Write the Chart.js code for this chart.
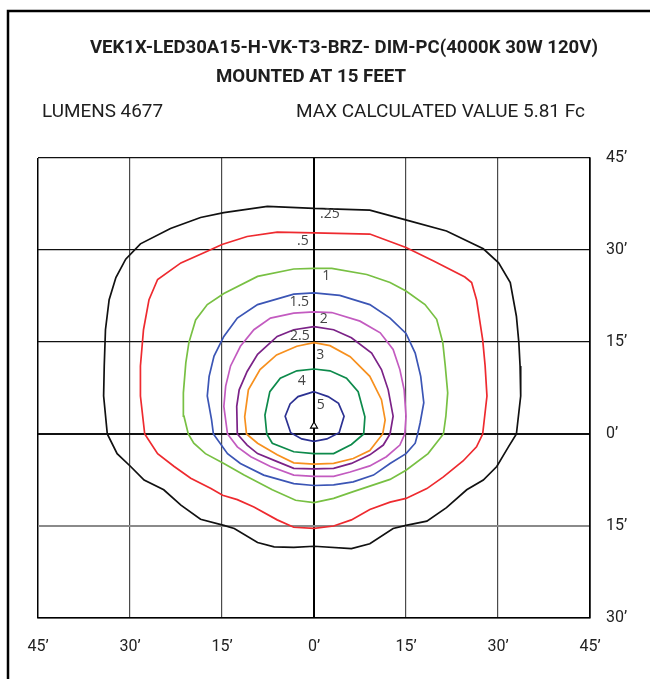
<!DOCTYPE html>
<html>
<head>
<meta charset="utf-8">
<script src="https://cdn.jsdelivr.net/npm/chart.js@4.4.1/dist/chart.umd.min.js"></script>
<style>
html, body { margin: 0; padding: 0; background: #fff; }
canvas { display: block; }
</style>
</head>
<body>
<canvas id="isoChart" width="650" height="679"></canvas>
<script>
// isofootcandle levels and their traced outlines, in feet
const levels = ['.25', '.5', '1', '1.5', '2', '2.5', '3', '4', '5'];

const contour025 = [[0,36.8],[9.1,36.5],[15.7,34.7],[21.6,33.1],[27.6,30.2],[30.1,27.9],[32.0,24.7],[33.0,19.2],[33.4,14.9],[33.6,11.1],[33.7,6.2],[33.0,0],
  [31.7,-2.1],[29.8,-5.3],[27.6,-7.5],[24.9,-9.1],[21.6,-12.0],[18.4,-14.2],[15,-14.9],[12.9,-15.4],[9.1,-17.9],[6.1,-18.7],[0,-18.3],
  [-3.3,-18.5],[-6.5,-18.4],[-9.2,-17.7],[-13.0,-15.4],[-14.7,-14.9],[-18.5,-13.9],[-21.7,-11.6],[-24.5,-9.1],[-27.7,-7.5],[-29.9,-5.3],[-32.1,-3.2],[-33.7,0],
  [-34.3,6.2],[-34.2,11.1],[-34.0,17.0],[-33.4,21.9],[-32.3,25.5],[-30.7,28.5],[-28.3,31.0],[-23.4,33.5],[-18.5,35.3],[-14.7,36.1],[-7.6,37.1],[0,36.8]];

const contour05 = [[0,32.8],[9.1,32.6],[15,30.4],[19.5,28.2],[24.6,25.6],[25.7,24.7],[26.5,21.9],[27.5,15.4],[27.9,11.1],[28.2,6.2],[27.5,0],
  [26.5,-2.1],[24.3,-4.4],[21.1,-7.0],[18.4,-8.9],[15,-10.5],[12.4,-11.1],[9.1,-12.3],[6.1,-14.0],[3.2,-15.0],[0,-15.4],
  [-3.3,-15.2],[-6.0,-14.0],[-9.8,-11.9],[-12.5,-10.7],[-14.9,-10.0],[-16.8,-8.9],[-20.1,-7.2],[-22.8,-5.3],[-25.5,-3.2],[-27.6,0],
  [-28.3,6.2],[-28.3,11.1],[-27.8,17.0],[-26.9,21.9],[-25.5,25.2],[-21.7,27.9],[-17.4,29.8],[-15.0,30.9],[-10.9,32.2],[-6.0,32.9],[0,32.8]];

const contour1 = [[0,27.0],[2.9,27.0],[8.6,26.0],[12.4,24.7],[15,23.3],[18.1,21.1],[20.0,18.7],[21.0,14.9],[21.4,11.1],[21.8,6.7],[21.5,2.9],[21.1,0],
  [18.6,-3.2],[15,-5.9],[12.4,-7.4],[6.4,-9.4],[3.2,-10.5],[0,-11.2],
  [-3.0,-10.8],[-6.8,-9.1],[-11.4,-6.7],[-14.7,-4.8],[-17.7,-3.2],[-19.6,-1.5],[-20.5,0],
  [-21.2,2.9],[-21.3,6.7],[-20.9,11.6],[-20.4,14.9],[-19.3,18.6],[-17.4,21.1],[-14.7,22.9],[-9.2,25.7],[-3.3,26.9],[0,27.0]];

const contour15 = [[0,23.0],[4.2,22.6],[9.1,21.1],[12.4,18.9],[15,16.4],[16.5,13.2],[17.4,9.4],[17.9,5.1],[17.3,1.8],[16.9,0],
  [16.5,-1.5],[15,-3.2],[12.4,-4.8],[9.7,-6.7],[6.4,-7.8],[3.2,-8.3],[0,-8.4],
  [-3.3,-8.1],[-8.2,-6.7],[-12.0,-4.8],[-14.1,-3.2],[-16.4,0],
  [-16.7,2.3],[-17.4,6.2],[-17.1,9.4],[-16.3,12.7],[-14.7,15.9],[-12.5,18.9],[-9.2,21.1],[-3.3,22.8],[0,23.0]];

const contour2 = [[0,19.9],[2.9,19.8],[7.5,18.4],[10.8,16.5],[12.9,13.8],[14.0,10.5],[14.7,7.2],[15,2.9],[14.8,0],
  [14.0,-1.8],[11.8,-3.7],[9.1,-5.2],[5.9,-6.2],[3.2,-6.9],[0,-6.9],
  [-3.3,-6.7],[-7.1,-5.3],[-10.3,-3.7],[-12.5,-2.1],[-14.1,0],
  [-14.7,4.5],[-14.4,7.8],[-13.6,11.1],[-12.0,14.3],[-9.8,17.0],[-7.1,18.9],[-3.3,19.7],[0,19.9]];

const contour25 = [[0,17.5],[3.2,17.0],[6.1,15.7],[9.4,13.2],[11.0,10.5],[12.1,7.2],[12.9,2.9],[12.4,0],
  [11.3,-1.8],[9.1,-3.4],[6.1,-4.8],[3.2,-5.6],[0,-5.7],
  [-3.3,-5.6],[-6.0,-4.5],[-9.2,-3.2],[-10.9,-1.8],[-12.5,0],
  [-12.6,4.5],[-12.2,7.2],[-10.9,10.2],[-9.2,13.0],[-6.0,15.9],[-3.3,17.0],[0,17.5]];

const contour3 = [[0,14.9],[2.6,14.4],[5.9,12.6],[9.1,9.4],[11.0,5.6],[11.6,2.3],[11.2,0],
  [9.1,-2.7],[6.4,-4.0],[3.2,-4.8],[0,-4.9],
  [-3.3,-4.7],[-6.0,-3.4],[-9.2,-1.5],[-11.0,0],
  [-11.3,2.8],[-10.7,7.2],[-8.8,10.5],[-6.1,12.9],[-2.8,14.3],[0,14.9]];

const contour4 = [[0,10.6],[2.6,10.3],[5.3,9.1],[7.2,6.9],[8.3,2.8],[8.1,0],
  [6.1,-1.7],[3.2,-3.2],[0,-3.2],
  [-3.3,-2.9],[-6.8,-1.5],[-7.7,0],
  [-8.0,3.1],[-7.2,6.9],[-5.5,9.1],[-2.8,10.3],[0,10.6]];

const contour5 = [[0,6.9],[2.3,6.1],[4.0,5.0],[4.9,2.9],[4.1,0.2],[2.1,-0.8],[0,-1.2],[-2.0,-0.8],[-3.8,0.2],[-4.7,2.9],[-3.9,4.9],[-2.6,6.1],[0,6.9]];

// where each level's number sits (feet)
const labelX = [2.6, -1.8, 2.0, -2.4, 1.6, -2.3, 1.0, -2.0, 1.1];
const labelY = [35.8, 31.5, 25.7, 21.6, 18.8, 15.9, 12.9, 8.7, 4.7];

const fixture = [[0, 1.3]];
const titleLine1 = 'VEK1X-LED30A15-H-VK-T3-BRZ- DIM-PC(4000K 30W 120V)';
const titleLine2 = 'MOUNTED AT 15 FEET';
const lumens = 4677;
const maxValue = 5.81;

const contours = [contour025, contour05, contour1, contour15, contour2, contour25, contour3, contour4, contour5];
const lineColors = ['#111111', '#ee2a2f', '#78c043', '#3b55b5', '#c35bc0', '#7b2287', '#f7901e', '#0d8a4b', '#2c3192'];

const datasets = contours.map((pts, i) => ({
    label: levels[i],
    data: pts.map(p => ({ x: p[0], y: p[1] })),
    showLine: true,
    borderColor: lineColors[i],
    borderWidth: 1.7,
    pointRadius: 0,
    tension: 0,
    fill: false
}));
datasets.push({
    label: 'fixture',
    data: fixture.map(p => ({ x: p[0], y: p[1] })),
    pointStyle: 'triangle',
    pointRadius: 4,
    backgroundColor: '#fff',
    borderColor: '#000',
    borderWidth: 1.2
});

const frameAndText = {
    id: 'frameAndText',
    beforeDraw(chart) {
        const c = chart.ctx;
        c.save();
        c.fillStyle = '#fff';
        c.fillRect(0, 0, chart.width, chart.height);
        c.strokeStyle = '#000';
        c.lineWidth = 2.5;
        c.beginPath();
        c.moveTo(8, chart.height);
        c.lineTo(8, 11);
        c.lineTo(chart.width, 11);
        c.stroke();

        c.fillStyle = '#1e1e1e';
        c.textBaseline = 'alphabetic';
        c.textAlign = 'center';
        c.font = 'bold 19px Roboto';
        c.fillText(titleLine1, 344, 53, 508);
        c.fillText(titleLine2, 311, 82, 190);
        c.font = '19px Roboto';
        c.textAlign = 'left';
        c.fillText('LUMENS ' + lumens, 42, 117, 121);
        c.fillText('MAX CALCULATED VALUE ' + maxValue + ' Fc', 296, 117, 289);
        c.restore();
    },
    afterDatasetsDraw(chart) {
        const c = chart.ctx;
        const xs = chart.scales.x, ys = chart.scales.y;
        c.save();
        c.fillStyle = '#444';
        c.font = '14px "Open Sans"';
        c.textAlign = 'center';
        c.textBaseline = 'middle';
        levels.forEach((lv, i) => {
            c.fillText(lv, xs.getPixelForValue(labelX[i]), ys.getPixelForValue(labelY[i]));
        });
        c.restore();
    }
};

const ctx = document.getElementById('isoChart').getContext('2d');
new Chart(ctx, {
    type: 'scatter',
    data: { datasets: datasets },
    options: {
        responsive: false,
        animation: false,
        layout: { padding: { left: 38, top: 158, right: 0, bottom: 0 } },
        plugins: { legend: { display: false }, tooltip: { enabled: false } },
        scales: {
            x: {
                type: 'linear',
                position: 'bottom',
                min: -45, max: 45,
                afterFit: s => { s.height = 61; },
                ticks: {
                    stepSize: 15,
                    padding: 19,
                    color: '#222',
                    font: { family: 'Roboto', size: 16 },
                    callback: v => Math.abs(v) + '’'
                },
                grid: {
                    drawTicks: false,
                    color: c => (c.tick && (c.tick.value === 0 || Math.abs(c.tick.value) === 45)) ? '#000' : '#4a4a4a',
                    lineWidth: c => (c.tick && c.tick.value === 0) ? 2 : (c.tick && Math.abs(c.tick.value) === 45 ? 1.5 : 1.2)
                },
                border: { color: '#000', width: 1.5 }
            },
            y: {
                type: 'linear',
                position: 'right',
                min: -30, max: 45,
                afterFit: s => { s.width = 60; },
                ticks: {
                    stepSize: 15,
                    padding: 16,
                    color: '#222',
                    font: { family: 'Roboto', size: 16 },
                    callback: v => Math.abs(v) + '’'
                },
                grid: {
                    drawTicks: false,
                    color: c => {
                        if (!c.tick) return '#000';
                        if (c.tick.value === -15) return '#8a8a8a';
                        return '#111';
                    },
                    lineWidth: c => {
                        if (!c.tick) return 1;
                        if (c.tick.value === 0) return 2;
                        if (c.tick.value === -15) return 2;
                        return 1.3;
                    }
                },
                border: { color: '#000', width: 1.5 }
            }
        }
    },
    plugins: [frameAndText]
});
</script>
</body>
</html>
